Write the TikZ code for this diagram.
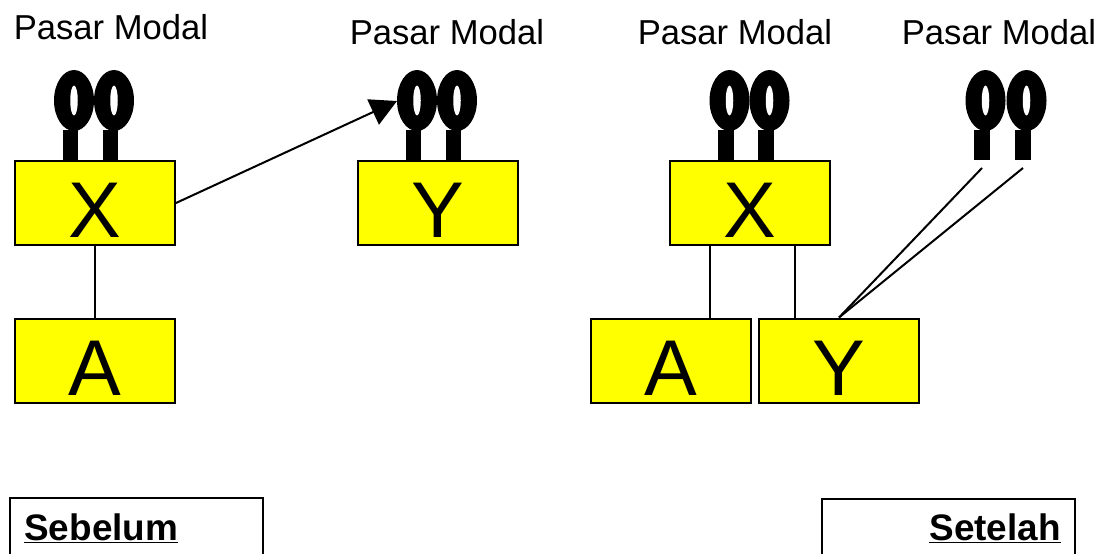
\documentclass[tikz,border=0pt]{standalone}
\usepackage{fontspec}
\setmainfont{Liberation Sans}
\usetikzlibrary{shapes.geometric,arrows.meta}
\definecolor{kuning}{RGB}{255,255,0}
\tikzset{
	kotak/.style={draw, fill=kuning, line width=0.04cm, minimum width=3.2cm, minimum height=1.7cm, inner sep=0pt, text height=1.4cm, text depth=0pt, font=\fontsize{45}{47}\selectfont},
	loop/.style={ellipse, fill=black, minimum width=0.8cm, minimum height=1.22cm, inner sep=0pt},
	lubang/.style={ellipse, fill=white, minimum width=0.15cm, minimum height=0.6cm, inner sep=0pt},
	tangkai/.style={fill=black, minimum width=0.31cm, minimum height=0.6cm, inner sep=0pt},
	judul/.style={font=\fontsize{19.7}{22}\selectfont, inner sep=0pt},
	garis/.style={line width=0.04cm},
	pojok/.style={font=\fontsize{21}{24}\selectfont\bfseries, inner sep=0pt}
}
\begin{document}
\begin{tikzpicture}[x=0.02cm,y=-0.02cm]
	\useasboundingbox (0,0) rectangle (1101,554);
	% tangkai dan lingkaran
	\foreach \nama/\posx in {p/70.5,q/110.5,r/413.5,s/453.5,t/726,u/766,v/982,w/1023}{
		\node (\nama s) at (\posx,145) [tangkai] {};
		\node (\nama l) at (\posx+3.5,100.5) [loop] {};
		\node (\nama h) at (\posx+3.5,100.5) [lubang] {};
	}
	% kotak kiri
	\node (x1) at (95,203) [kotak] {X};
	\node (a1) at (95,361) [kotak] {A};
	\node (y1) at (438,203) [kotak] {Y};
	% kotak kanan
	\node (x2) at (750,203) [kotak] {X};
	\node (a2) at (671,361) [kotak] {A};
	\node (y2) at (839,361) [kotak] {Y};
	% judul
	\node (j1) at (111,27) [judul] {Pasar Modal};
	\node (j2) at (447,32) [judul] {Pasar Modal};
	\node (j3) at (735,32) [judul] {Pasar Modal};
	\node (j4) at (999,32) [judul] {Pasar Modal};
	% garis
	\coordinate (ax) at (x1.east);
	\coordinate (kaki1) at (982,168);
	\coordinate (kaki2) at (1023,168);
	\coordinate (y2a) at (y2.north);
	\draw[garis] (x1.south) -- (a1.north);
	\draw[garis] (710,246) -- (710,318);
	\draw[garis] (795,246) -- (795,318);
	\draw[garis] (y2a) -- (kaki1);
	\draw[garis] (y2a) -- (kaki2);
	\draw[garis,-{Triangle[length=15pt,width=15.7pt]}] (ax) -- (397,101);
	% keterangan
	\draw[garis] (10,554) -- (10,498) -- (263,498) -- (263,554);
	\draw[garis] (822,554) -- (822,499) -- (1075,499) -- (1075,554);
	\node (sebelum) at (24,540) [pojok, anchor=base west] {\underline{Sebelum}};
	\node (setelah) at (1061,540) [pojok, anchor=base east] {\underline{Setelah}};
\end{tikzpicture}
\end{document}
